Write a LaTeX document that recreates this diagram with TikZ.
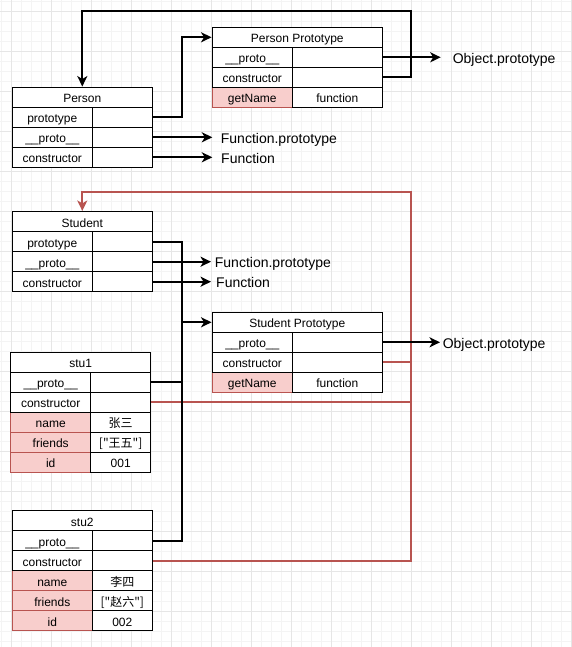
\documentclass[tikz,border=0pt]{standalone}
\usepackage{fontspec}
\setmainfont{Liberation Sans}
\newfontfamily\cjk{Noto Sans CJK SC}
\usetikzlibrary{arrows.meta}
\definecolor{myred}{HTML}{B85450}
\definecolor{myfill}{HTML}{F8CECC}
\definecolor{gridmin}{HTML}{F4F4F4}
\definecolor{gridmaj}{HTML}{E6E6E6}
\tikzset{
  cell/.style={draw=black, line width=1.5pt, fill=white, minimum height=20pt, inner sep=0pt,
    font=\fontsize{12}{14}\selectfont, text height=11.5pt, text depth=0.5pt},
  redcell/.style={cell, draw=myred, fill=myfill},
  wa/.style={minimum width=80pt},
  wb/.style={minimum width=60pt},
  wc/.style={minimum width=90pt},
  wh/.style={minimum width=140pt},
  wk/.style={minimum width=170pt},
  lab/.style={anchor=base west, inner ysep=0pt, font=\fontsize{14}{16}\selectfont},
  tip/.style={-{Stealth[length=10.5pt,width=10pt,inset=3pt]}},
  conn/.style={line width=2pt, black, tip},
  plainline/.style={line width=2pt, black},
  redline/.style={line width=2pt, myred},
  redconn/.style={line width=2pt, myred, tip},
}
\begin{document}
\begin{tikzpicture}[x=1pt,y=-1pt]
\useasboundingbox (0,0) rectangle (572,647);
\fill[white] (0,0) rectangle (572,647);
% grid
\foreach \i in {0,...,57} \draw[gridmin, line width=1pt] (1.5+10*\i,0) -- ++(0,647);
\foreach \i in {0,...,64} \draw[gridmin, line width=1pt] (0,1.5+10*\i) -- ++(572,0);
\foreach \i in {0,...,14} \draw[gridmaj, line width=1pt] (11.5+40*\i,0) -- ++(0,647);
\foreach \i in {0,...,15} \draw[gridmaj, line width=1pt] (0,11.5+40*\i) -- ++(572,0);

% ---------- red cells first ----------
\node[redcell,wa] (pp3l) at (252.3,97.3) {getName};
\node[redcell,wa] (sp3l) at (252.3,382.3) {getName};
\node[redcell,wa] (a3l) at (50.7,422.3) {name};
\node[redcell,wa] (a4l) at (50.7,442.3) {friends};
\node[redcell,wa] (a5l) at (50.7,462.3) {id};
\node[redcell,wa] (b3l) at (52.3,580.7) {name};
\node[redcell,wa] (b4l) at (52.3,600.7) {friends};
\node[redcell,wa] (b5l) at (52.3,620.7) {id};

% ---------- Person ----------
\node[cell,wh] (ph) at (82.3,97.3) {Person};
\node[cell,wa] (p1l) at (52.3,117.3) {prototype};
\node[cell,wb] (p1r) at (122.3,117.3) {};
\node[cell,wa] (p2l) at (52.3,137.3) {\_\_proto\_\_};
\node[cell,wb] (p2r) at (122.3,137.3) {};
\node[cell,wa] (p3l) at (52.3,157.3) {constructor};
\node[cell,wb] (p3r) at (122.3,157.3) {};

% ---------- Person Prototype ----------
\node[cell,wk] (pph) at (297.3,37.3) {Person Prototype};
\node[cell,wa] (pp1l) at (252.3,57.3) {\_\_proto\_\_};
\node[cell,wc] (pp1r) at (337.3,57.3) {};
\node[cell,wa] (pp2l) at (252.3,77.3) {constructor};
\node[cell,wc] (pp2r) at (337.3,77.3) {};
\node[cell,wc] (pp3r) at (337.3,97.3) {function};

% ---------- Student ----------
\node[cell,wh] (sh) at (82.3,221.7) {Student};
\node[cell,wa] (s1l) at (52.3,241.7) {prototype};
\node[cell,wb] (s1r) at (122.3,241.7) {};
\node[cell,wa] (s2l) at (52.3,261.7) {\_\_proto\_\_};
\node[cell,wb] (s2r) at (122.3,261.7) {};
\node[cell,wa] (s3l) at (52.3,281.7) {constructor};
\node[cell,wb] (s3r) at (122.3,281.7) {};

% ---------- Student Prototype ----------
\node[cell,wk] (sph) at (297.3,322.3) {Student Prototype};
\node[cell,wa] (sp1l) at (252.3,342.3) {\_\_proto\_\_};
\node[cell,wc] (sp1r) at (337.3,342.3) {};
\node[cell,wa] (sp2l) at (252.3,362.3) {constructor};
\node[cell,wc] (sp2r) at (337.3,362.3) {};
\node[cell,wc] (sp3r) at (337.3,382.3) {function};

% ---------- stu1 ----------
\node[cell,wh] (ah) at (80.7,362.3) {stu1};
\node[cell,wa] (a1l) at (50.7,382.3) {\_\_proto\_\_};
\node[cell,wb] (a1r) at (120.7,382.3) {};
\node[cell,wa] (a2l) at (50.7,402.3) {constructor};
\node[cell,wb] (a2r) at (120.7,402.3) {};
\node[cell,wb] (a3r) at (120.7,422.3) {\cjk 张三};
\node[cell,wb] (a4r) at (120.7,442.3) {\cjk ["王五"]};
\node[cell,wb] (a5r) at (120.7,462.3) {001};

% ---------- stu2 ----------
\node[cell,wh] (bh) at (82.3,520.7) {stu2};
\node[cell,wa] (b1l) at (52.3,540.7) {\_\_proto\_\_};
\node[cell,wb] (b1r) at (122.3,540.7) {};
\node[cell,wa] (b2l) at (52.3,560.7) {constructor};
\node[cell,wb] (b2r) at (122.3,560.7) {};
\node[cell,wb] (b3r) at (122.3,580.7) {\cjk 李四};
\node[cell,wb] (b4r) at (122.3,600.7) {\cjk ["赵六"]};
\node[cell,wb] (b5r) at (122.3,620.7) {002};

% ---------- labels ----------
\node[lab, inner xsep=8.4pt] (fp1) at (212.3,143.3) {Function.prototype};
\node[lab, inner xsep=8.7pt] (f1) at (212.3,163.3) {Function};
\node[lab, inner xsep=11.9pt] (op1) at (440.7,63.5) {Object.prototype};
\node[lab, inner xsep=3.7pt] (fp2) at (211,267.7) {Function.prototype};
\node[lab, inner xsep=5pt] (f2) at (211,287.7) {Function};
\node[lab, inner xsep=2.6pt] (op2) at (440,348.3) {Object.prototype};

% ---------- bend points ----------
\coordinate (k1) at (411,11);
\coordinate (k2) at (182.3,37.3);
\coordinate (k3) at (181.5,322.3);
\coordinate (k4) at (410.7,192.3);

% ---------- red connectors ----------
\draw[redline] (sp2r.east) -- (sp2r.east -| k4);
\draw[redline] (a2r.east) -- (a2r.east -| k4);
\draw[redconn] (b2r.east) -| (k4) -| (sh.north);

% ---------- black connectors ----------
\draw[conn] (pp2r.east) -| (k1) -| (ph.north);
\draw[conn] (p1r.east) -| (k2) -- (pph.west);
\draw[conn] (p2r.east) -- (p2r.east -| fp1.west);
\draw[conn] (p3r.east) -- (p3r.east -| f1.west);
\draw[conn] (pp1r.east) -- (pp1r.east -| op1.west);
\draw[plainline] (a1r.east) -| (k3);
\draw[plainline] (b1r.east) -| (k3);
\draw[conn] (s1r.east) -| (k3) -- (sph.west);
\draw[conn] (s2r.east) -- (s2r.east -| fp2.west);
\draw[conn] (s3r.east) -- (s3r.east -| f2.west);
\draw[conn] (sp1r.east) -- (sp1r.east -| op2.west);
\end{tikzpicture}
\end{document}
